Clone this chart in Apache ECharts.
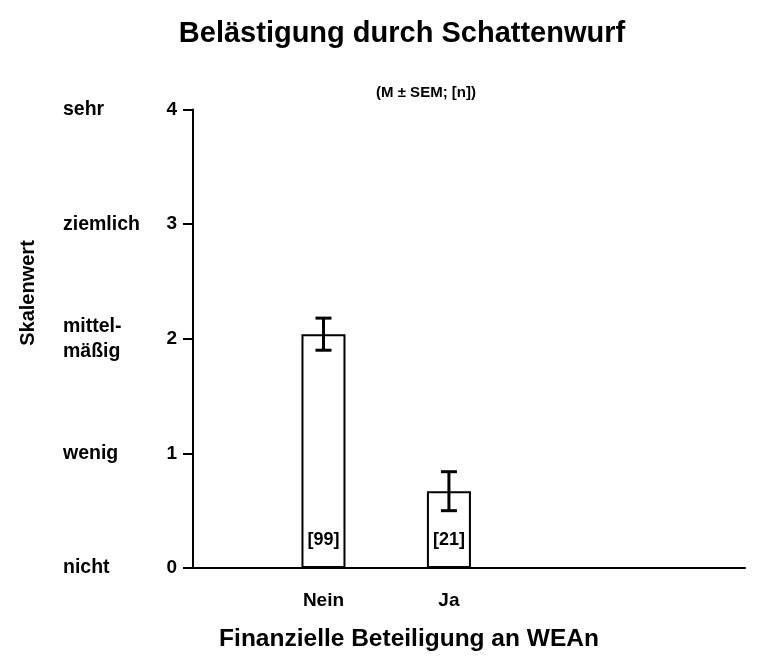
<!DOCTYPE html>
<html>
<head>
<meta charset="utf-8">
<script src="https://cdn.jsdelivr.net/npm/echarts@6/dist/echarts.min.js"></script>
<style>
  html, body { margin: 0; padding: 0; background: #fff; }
  #chart { width: 759px; height: 657px; }
</style>
</head>
<body>
<div id="chart"></div>
<script>
// Daten aus der Abbildung
var categories = ['Nein', 'Ja'];
var means = [2.04, 0.67];
var semLow = [1.90, 0.50];
var semHigh = [2.18, 0.84];
var nLabels = ['[99]', '[21]'];
var yTicks = [0, 1, 2, 3, 4];
var yWords = ['nicht', 'wenig', 'mittel-\nmäßig', 'ziemlich', 'sehr'];

var font = 'Liberation Sans, Arial, sans-serif';

var myChart = echarts.init(document.getElementById('chart'));

var barData = means.map(function (v, i) { return [i, v]; });
var errData = means.map(function (v, i) { return [i, semLow[i], semHigh[i]]; });

var option = {
    animation: false,
    backgroundColor: '#fff',
    title: [{
        text: 'Belästigung durch Schattenwurf',
        left: 397, top: 14, textAlign: 'center',
        textStyle: { fontFamily: font, fontWeight: 'bold', fontSize: 29, color: '#000' }
    }, {
        text: '(M ± SEM; [n])',
        left: 421, top: 80, textAlign: 'center',
        textStyle: { fontFamily: font, fontWeight: 'bold', fontSize: 15, color: '#000' }
    }],
    graphic: [{
        type: 'text',
        x: 28, y: 293,
        rotation: Math.PI / 2,
        style: {
            text: 'Skalenwert', fontFamily: font, fontWeight: 'bold', fontSize: 20,
            fill: '#000', align: 'center', verticalAlign: 'middle'
        }
    }],
    grid: { left: 193, width: 552, top: 109.5, height: 462, containLabel: false },
    xAxis: {
        type: 'value',
        min: -1.04, max: 3.36,
        splitLine: { show: false },
        axisLine: { show: true, onZero: false, lineStyle: { color: '#000', width: 2 } },
        axisTick: { show: false },
        axisLabel: {
            customValues: [0, 1],
            formatter: function (v) { return categories[Math.round(v)] || ''; },
            margin: 23,
            fontFamily: font, fontWeight: 'bold', fontSize: 19, color: '#000'
        },
        name: 'Finanzielle Beteiligung an WEAn',
        nameLocation: 'middle',
        nameGap: 59,
        nameTextStyle: { fontFamily: font, fontWeight: 'bold', fontSize: 24.5, color: '#000', padding: [0, 0, 0, -120] }
    },
    yAxis: [{
        type: 'value',
        min: 0, max: 4, interval: 1,
        splitLine: { show: false },
        axisLine: { show: true, onZero: false, lineStyle: { color: '#000', width: 2 } },
        axisTick: { show: true, length: 10, lineStyle: { color: '#000', width: 2 } },
        axisLabel: {
            margin: 16,
            formatter: function (v) { return yTicks.indexOf(v) >= 0 ? String(v) : ''; },
            fontFamily: font, fontWeight: 'bold', fontSize: 19, color: '#000'
        }
    }, {
        type: 'value',
        position: 'left',
        min: 0, max: 4, interval: 1,
        splitLine: { show: false },
        axisLine: { show: false },
        axisTick: { show: false },
        axisLabel: {
            align: 'left',
            margin: 130,
            lineHeight: 25,
            formatter: function (v) { return yWords[v] || ''; },
            fontFamily: font, fontWeight: 'bold', fontSize: 19.5, color: '#000'
        }
    }],
    series: [{
        type: 'bar',
        data: barData,
        barWidth: 44,
        itemStyle: { color: '#fff', borderColor: '#000', borderWidth: 2 },
        label: {
            show: true,
            position: 'insideBottom',
            distance: 19,
            formatter: function (p) { return nLabels[p.dataIndex]; },
            fontFamily: font, fontWeight: 'bold', fontSize: 18, color: '#000'
        },
        z: 2
    }, {
        type: 'custom',
        data: errData,
        z: 3,
        renderItem: function (params, api) {
            var lo = api.coord([api.value(0), api.value(1)]);
            var hi = api.coord([api.value(0), api.value(2)]);
            var half = 8;
            var st = { stroke: '#000', lineWidth: 3 };
            return {
                type: 'group',
                children: [
                    { type: 'line', shape: { x1: hi[0], y1: hi[1], x2: lo[0], y2: lo[1] }, style: st },
                    { type: 'line', shape: { x1: hi[0] - half, y1: hi[1], x2: hi[0] + half, y2: hi[1] }, style: st },
                    { type: 'line', shape: { x1: lo[0] - half, y1: lo[1], x2: lo[0] + half, y2: lo[1] }, style: st }
                ]
            };
        }
    }]
};

myChart.setOption(option);
</script>
</body>
</html>
